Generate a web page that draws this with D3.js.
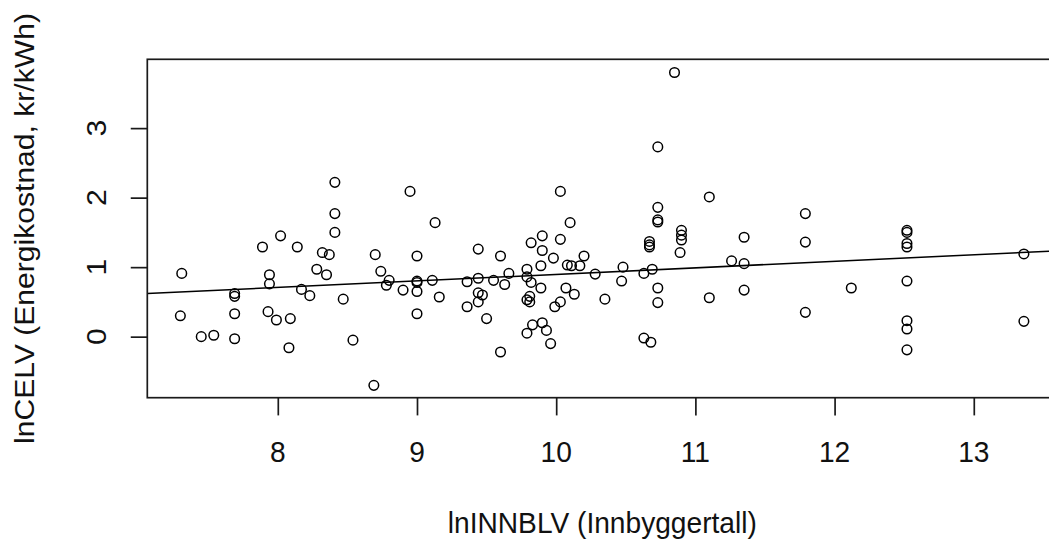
<!DOCTYPE html>
<html>
<head>
<meta charset="utf-8">
<script src="https://cdn.jsdelivr.net/npm/d3@7"></script>
<style>
  html, body { margin: 0; padding: 0; background: #fff; overflow: hidden; }
  svg { display: block; }
  text { font-family: "Liberation Sans", Arial, sans-serif; fill: #111; }
</style>
</head>
<body>
<svg id="chart" width="1049" height="545"></svg>
<script>
// lnINNBLV (log of inhabitants) for each municipality
const lnINNBLV = [
  7.30, 7.31, 7.45, 7.54, 7.69, 7.69, 7.69, 7.69, 7.89, 7.93,
  7.94, 7.94, 7.99, 8.02, 8.08, 8.09, 8.14, 8.17, 8.23, 8.28,
  8.32, 8.35, 8.37, 8.41, 8.41, 8.41, 8.47, 8.54, 8.69, 8.70,
  8.74, 8.78, 8.80, 8.90, 8.95, 9.00, 9.00, 9.00, 9.00, 9.00,
  9.11, 9.13, 9.16, 9.36, 9.36, 9.44, 9.44, 9.44, 9.47, 9.44,
  9.50, 9.55, 9.60, 9.60, 9.63, 9.66, 9.79, 9.79, 9.79, 9.81,
  9.81, 9.79, 9.82, 9.82, 9.83, 9.89, 9.89, 9.90, 9.90, 9.90,
  9.93, 9.96, 9.98, 9.99, 10.03, 10.03, 10.03, 10.07, 10.08, 10.10,
  10.11, 10.13, 10.17, 10.20, 10.28, 10.35, 10.47, 10.48, 10.63, 10.63,
  10.67, 10.67, 10.67, 10.68, 10.69, 10.73, 10.73, 10.73, 10.73, 10.73,
  10.73, 10.85, 10.89, 10.90, 10.90, 10.90, 11.10, 11.10, 11.26, 11.35,
  11.35, 11.35, 11.79, 11.79, 11.79, 12.12, 12.52, 12.52, 12.52, 12.52,
  12.52, 12.52, 12.52, 12.52, 13.36, 13.36
];

// lnCELV (log of energy cost, kr/kWh), same order as above
const lnCELV = [
  0.30, 0.91, 0.00, 0.02, 0.62, 0.58, 0.33, -0.03, 1.29, 0.36,
  0.89, 0.76, 0.24, 1.45, -0.16, 0.26, 1.29, 0.68, 0.59, 0.97,
  1.21, 0.89, 1.18, 2.22, 1.77, 1.50, 0.54, -0.05, -0.70, 1.18,
  0.94, 0.74, 0.81, 0.67, 2.09, 1.16, 0.78, 0.80, 0.65, 0.33,
  0.81, 1.64, 0.57, 0.79, 0.43, 1.26, 0.84, 0.63, 0.60, 0.50,
  0.26, 0.81, 1.16, -0.22, 0.75, 0.91, 0.97, 0.86, 0.53, 0.50,
  0.58, 0.05, 1.35, 0.78, 0.17, 1.02, 0.70, 1.45, 1.24, 0.20,
  0.09, -0.10, 1.13, 0.43, 2.09, 1.40, 0.50, 0.70, 1.03, 1.64,
  1.02, 0.61, 1.02, 1.16, 0.90, 0.54, 0.80, 1.00, 0.91, -0.02,
  1.37, 1.32, 1.29, -0.08, 0.97, 2.73, 1.86, 1.65, 1.68, 0.70,
  0.49, 3.80, 1.21, 1.53, 1.46, 1.39, 2.01, 0.56, 1.09, 1.43,
  1.05, 0.67, 1.77, 1.36, 0.35, 0.70, 1.53, 1.50, 1.34, 1.29,
  0.80, 0.23, 0.11, -0.19, 1.19, 0.22
];

// Tick values on both axes
const xTicks = [8, 9, 10, 11, 12, 13];
const yTicks = [0, 1, 2, 3];

// Fitted regression line lnCELV = a + b * lnINNBLV
const fitIntercept = -0.044;
const fitSlope = 0.094;

const xTitle = "lnINNBLV (Innbyggertall)";
const yTitle = "lnCELV (Energikostnad, kr/kWh)";

// Plot region (the right edge runs past the visible canvas)
const plot = { left: 147.3, right: 1057.3, top: 59.3, bottom: 397.7 };
const tickLen = 17.7;
const squeeze = 0.935;   // horizontal text compression
const fontPx = 30.1;

const svg = d3.select("#chart");

const x = d3.scaleLinear().domain([7.0625, 13.6]).range([plot.left, plot.right]);
const y = d3.scaleLinear().domain([-0.878, 3.99]).range([plot.bottom, plot.top]);

// Bottom axis ticks and labels
const xAxis = svg.append("g")
  .attr("transform", `translate(0,${plot.bottom})`)
  .call(d3.axisBottom(x).tickValues(xTicks).tickSize(tickLen).tickFormat(""));
xAxis.select(".domain").remove();
xAxis.selectAll(".tick line").attr("stroke", "#1a1a1a").attr("stroke-width", 1.7);
xAxis.selectAll(".tick text").remove();

svg.append("g").selectAll("text")
  .data(xTicks)
  .join("text")
  .attr("transform", d => `translate(${x(d)},462) scale(${squeeze},1)`)
  .attr("text-anchor", "middle")
  .style("font-size", fontPx + "px")
  .text(d => d);

// Left axis ticks and labels (rotated, as in base graphics)
const yAxis = svg.append("g")
  .attr("transform", `translate(${plot.left},0)`)
  .call(d3.axisLeft(y).tickValues(yTicks).tickSize(tickLen * squeeze).tickFormat(""));
yAxis.select(".domain").remove();
yAxis.selectAll(".tick line").attr("stroke", "#1a1a1a").attr("stroke-width", 1.7);
yAxis.selectAll(".tick text").remove();

svg.append("g").selectAll("text")
  .data(yTicks)
  .join("text")
  .attr("transform", d => `translate(105.5,${y(d)}) scale(${squeeze},1) rotate(-90)`)
  .attr("text-anchor", "middle")
  .style("font-size", fontPx + "px")
  .text(d => d);

// Axis titles
svg.append("text")
  .attr("transform", `translate(${(plot.left + plot.right) / 2},533) scale(${squeeze},1)`)
  .attr("text-anchor", "middle")
  .style("font-size", fontPx + "px")
  .text(xTitle);

svg.append("text")
  .attr("transform", `translate(34,${(plot.top + plot.bottom) / 2}) scale(${squeeze},1) rotate(-90)`)
  .attr("text-anchor", "middle")
  .style("font-size", fontPx + "px")
  .text(yTitle);

// Clip for the marks inside the plot region
svg.append("clipPath").attr("id", "plot-clip")
  .append("rect")
  .attr("x", plot.left).attr("y", plot.top)
  .attr("width", plot.right - plot.left).attr("height", plot.bottom - plot.top);

const marks = svg.append("g").attr("clip-path", "url(#plot-clip)");

// Scatter points (open circles)
const points = lnINNBLV.map((v, i) => ({ x: v, y: lnCELV[i] }));
marks.selectAll("circle")
  .data(points)
  .join("circle")
  .attr("cx", d => x(d.x))
  .attr("cy", d => y(d.y))
  .attr("r", 4.8)
  .attr("fill", "none")
  .attr("stroke", "#000")
  .attr("stroke-width", 1.5);

// Regression line across the whole plot region
const xd = x.domain();
marks.append("line")
  .attr("x1", x(xd[0])).attr("y1", y(fitIntercept + fitSlope * xd[0]))
  .attr("x2", x(xd[1])).attr("y2", y(fitIntercept + fitSlope * xd[1]))
  .attr("stroke", "#000")
  .attr("stroke-width", 1.5);

// Frame around the plot region
svg.append("rect")
  .attr("x", plot.left).attr("y", plot.top)
  .attr("width", plot.right - plot.left).attr("height", plot.bottom - plot.top)
  .attr("fill", "none")
  .attr("stroke", "#1a1a1a")
  .attr("stroke-width", 1.7);
</script>
</body>
</html>
